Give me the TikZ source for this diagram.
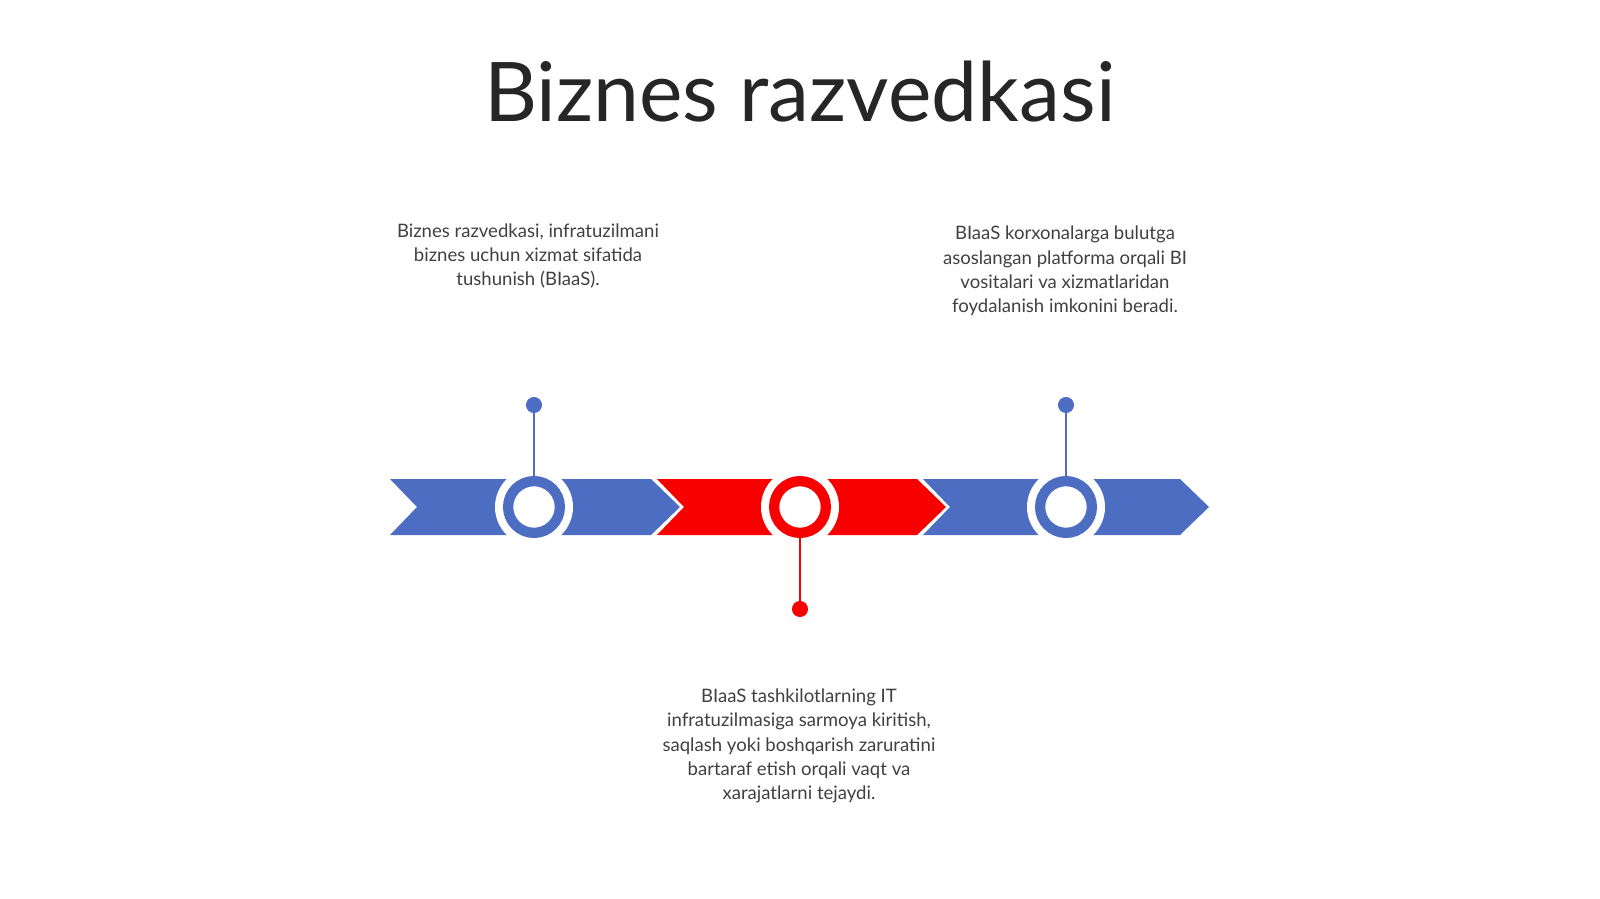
\documentclass[tikz,border=0pt]{standalone}
\usepackage{fontspec}
\setmainfont{Lato}
\usepackage{tikz}
\usetikzlibrary{positioning}
\definecolor{tlblue}{HTML}{4D6DC3}
\definecolor{tlred}{HTML}{F80000}
\definecolor{txtgray}{HTML}{404040}

\begin{document}
\begin{tikzpicture}[x=0.025cm,y=-0.025cm,
                    ring node/.style={circle,draw=#1,fill=white,line width=7.3pt,minimum size=36.8pt,inner sep=0pt},
                    dot node/.style={circle,fill=#1,minimum size=11.4pt,inner sep=0pt},
                    text node/.style={align=center,text=txtgray,font=\fontsize{13.2}{17.3}\selectfont}]
  \useasboundingbox (0,0) rectangle (1600,899);

  \node[anchor=base,text=black!85,font=\fontsize{58.5}{66}\selectfont] (title) at (800,122) {Biznes razvedkasi};

  % chevron band
  \foreach \xa/\xb/\col in {390/651/tlblue,657/917/tlred,923/1180/tlblue}
    \fill[\col] (\xa,479) -- (\xb,479) -- (\xb+29,507) -- (\xb,535) -- (\xa,535) -- (\xa+27,507) -- cycle;
  \foreach \x in {534,800,1066}
    \fill[white] (\x,507) circle[radius=39];

  \node[ring node=tlblue] (1) at (534,507) {};
  \node[ring node=tlred]  (2) at (800,507) {};
  \node[ring node=tlblue] (3) at (1066,507) {};

  \node[dot node=tlblue] (d1) at (534,405) {};
  \node[dot node=tlred]  (d2) at (800,609) {};
  \node[dot node=tlblue] (d3) at (1066,405) {};

  \draw[tlblue,line width=2.1pt] (d1) -- (1);
  \draw[tlred,line width=2.1pt] (d2) -- (2);
  \draw[tlblue,line width=2.1pt] (d3) -- (3);

  \node[text node] (t1) at (528,256) {Biznes razvedkasi, infratuzilmani\\biznes uchun xizmat sifatida\\tushunish (BIaaS).};
  \node[text node] (t2) at (1065,271) {BIaaS korxonalarga bulutga\\asoslangan platforma orqali BI\\vositalari va xizmatlaridan\\foydalanish imkonini beradi.};
  \node[text node] (t3) at (799,746) {BIaaS tashkilotlarning IT\\infratuzilmasiga sarmoya kiritish,\\saqlash yoki boshqarish zaruratini\\bartaraf etish orqali vaqt va\\xarajatlarni tejaydi.};

\end{tikzpicture}
\end{document}
